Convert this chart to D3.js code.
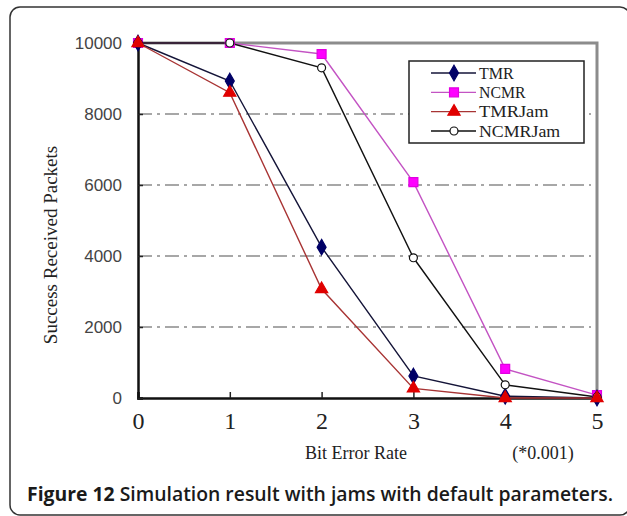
<!DOCTYPE html>
<html>
<head>
<meta charset="utf-8">
<script src="https://cdn.jsdelivr.net/npm/d3@7"></script>
<style>
  body { margin: 0; background: #fff; }
  .serif { font-family: 'Liberation Serif', 'Times New Roman', serif; fill: #222; }
</style>
</head>
<body>
<div id="chart"></div>
<script>
let errorRates = [0, 1, 2, 3, 4, 5]
let yTicks = [0, 2000, 4000, 6000, 8000, 10000]
let seriesNames = ['TMR', 'NCMR', 'TMRJam', 'NCMRJam']

let tmr = [10000, 8930, 4250, 620, 50, 0]
let ncmr = [10000, 10000, 9690, 6080, 820, 80]
let tmrJam = [10000, 8600, 3070, 270, 0, 0]
let ncmrJam = [10000, 10000, 9300, 3950, 370, 30]

let width = 627
let height = 516

let svg = d3
  .select('#chart')
  .append('svg')
  .attr('width', width)
  .attr('height', height)

// outer figure frame
svg
  .append('rect')
  .attr('x', 10)
  .attr('y', 7)
  .attr('width', 620)
  .attr('height', 508)
  .attr('rx', 10)
  .attr('fill', 'none')
  .attr('stroke', '#333')
  .attr('stroke-width', 1.5)

let xPositionScale = d3.scaleLinear().domain([0, 5]).range([138, 597])
let yPositionScale = d3.scaleLinear().domain([0, 10000]).range([398, 43])

// grid lines
svg
  .selectAll('.grid')
  .data(yTicks.filter(d => d > 0 && d < 10000))
  .enter()
  .append('line')
  .attr('class', 'grid')
  .attr('x1', xPositionScale(0))
  .attr('x2', xPositionScale(5) - 6)
  .attr('y1', d => yPositionScale(d))
  .attr('y2', d => yPositionScale(d))
  .attr('stroke', '#8a8a8a')
  .attr('stroke-width', 1.6)
  .attr('stroke-dasharray', '14,5,3,5')

// grey top and right frame
svg
  .append('path')
  .attr('d', 'M' + xPositionScale(0) + ',' + yPositionScale(10000) +
    'H' + xPositionScale(5) + 'V' + yPositionScale(0))
  .attr('fill', 'none')
  .attr('stroke', '#8c8c8c')
  .attr('stroke-width', 3)

// axes
let xAxis = d3.axisBottom(xPositionScale)
  .tickValues(errorRates)
  .tickFormat(d3.format('d'))
  .tickSize(-6)
  .tickPadding(14)
let yAxis = d3.axisLeft(yPositionScale)
  .tickValues(yTicks)
  .tickFormat(d3.format('d'))
  .tickSize(-5)
  .tickPadding(16)

let xg = svg
  .append('g')
  .attr('class', 'axis x-axis')
  .attr('transform', 'translate(0,' + yPositionScale(0) + ')')
  .call(xAxis)
xg.select('.domain').attr('stroke', '#111').attr('stroke-width', 2.5)
xg.selectAll('.tick line').attr('stroke', '#222').attr('stroke-width', 1.5)
xg.selectAll('.tick text')
  .attr('class', 'serif')
  .attr('font-size', 24)
  .attr('fill', '#222')

let yg = svg
  .append('g')
  .attr('class', 'axis y-axis')
  .attr('transform', 'translate(' + xPositionScale(0) + ',0)')
  .call(yAxis)
yg.select('.domain').attr('stroke', '#111').attr('stroke-width', 2.5)
yg.selectAll('.tick line').attr('stroke', '#222').attr('stroke-width', 1.5)
yg.selectAll('.tick text')
  .attr('font-family', "'Liberation Sans', Arial, sans-serif")
  .attr('font-size', 17)
  .attr('fill', '#444')
  .attr('dy', '0.35em')

// axis titles
svg
  .append('text')
  .attr('class', 'serif')
  .attr('x', 356)
  .attr('y', 459)
  .attr('text-anchor', 'middle')
  .attr('font-size', 18)
  .text('Bit Error Rate')

svg
  .append('text')
  .attr('class', 'serif')
  .attr('x', 543)
  .attr('y', 459)
  .attr('text-anchor', 'middle')
  .attr('font-size', 18)
  .text('(*0.001)')

svg
  .append('text')
  .attr('class', 'serif')
  .attr('transform', 'translate(57,245) rotate(-90)')
  .attr('text-anchor', 'middle')
  .attr('font-size', 19)
  .text('Success Received Packets')

// series
let series = [
  { name: 'NCMR', values: ncmr, line: '#c353c3', fill: '#ff00ff', stroke: '#e000e0', symbol: d3.symbolSquare, size: 80 },
  { name: 'TMR', values: tmr, line: '#141438', fill: '#000066', stroke: '#000066', symbol: d3.symbolDiamond, size: 70 },
  { name: 'NCMRJam', values: ncmrJam, line: '#111', fill: '#fff', stroke: '#111', symbol: d3.symbolCircle, size: 50 },
  { name: 'TMRJam', values: tmrJam, line: '#a83434', fill: '#e00000', stroke: '#e00000', symbol: d3.symbolTriangle, size: 65 }
]

let line = d3
  .line()
  .x((d, i) => xPositionScale(errorRates[i]))
  .y(d => yPositionScale(d))

series.forEach(s => {
  svg
    .append('path')
    .datum(s.values)
    .attr('fill', 'none')
    .attr('stroke', s.line)
    .attr('stroke-width', 1.4)
    .attr('d', line)
})

series.forEach(s => {
  svg
    .selectAll('.pt-' + s.name)
    .data(s.values)
    .enter()
    .append('path')
    .attr('class', 'pt-' + s.name)
    .attr('transform', (d, i) => 'translate(' + xPositionScale(errorRates[i]) + ',' + yPositionScale(d) + ')')
    .attr('d', d3.symbol().type(s.symbol).size(s.size))
    .attr('fill', s.fill)
    .attr('stroke', s.stroke)
    .attr('stroke-width', 1.2)
})

// legend
let legend = svg.append('g')
legend
  .append('rect')
  .attr('x', 409)
  .attr('y', 61)
  .attr('width', 175)
  .attr('height', 82)
  .attr('fill', '#fff')
  .attr('stroke', '#222')
  .attr('stroke-width', 1.5)

let legendOrder = seriesNames.map(n => series.find(s => s.name === n))
let legendY = d3.scalePoint().domain(seriesNames).range([73, 131])

legendOrder.forEach(s => {
  let y = legendY(s.name)
  legend
    .append('line')
    .attr('x1', 431)
    .attr('x2', 476)
    .attr('y1', y)
    .attr('y2', y)
    .attr('stroke', s.line)
    .attr('stroke-width', 1.4)
  legend
    .append('path')
    .attr('transform', 'translate(454,' + y + ')')
    .attr('d', d3.symbol().type(s.symbol).size(s.size))
    .attr('fill', s.fill)
    .attr('stroke', s.stroke)
    .attr('stroke-width', 1.2)
  legend
    .append('text')
    .attr('class', 'serif')
    .attr('x', 479)
    .attr('y', y + 5.5)
    .attr('font-size', 17.5)
    .attr('textLength', s.name.length * 11.6 + (s.name === 'TMRJam' ? 0 : 0))
    .attr('lengthAdjust', 'spacingAndGlyphs')
    .text(s.name)
})

// caption
let caption = svg
  .append('text')
  .attr('x', 27)
  .attr('y', 501)
  .attr('font-family', "'Open Sans', 'Noto Sans', sans-serif")
  .attr('font-size', 19)
  .attr('fill', '#1a1a1a')
  .attr('textLength', 586)
  .attr('lengthAdjust', 'spacingAndGlyphs')
caption.append('tspan').attr('font-weight', 700).text('Figure 12 ')
caption.append('tspan').attr('font-weight', 600).text('Simulation result with jams with default parameters.')
</script>
</body>
</html>
